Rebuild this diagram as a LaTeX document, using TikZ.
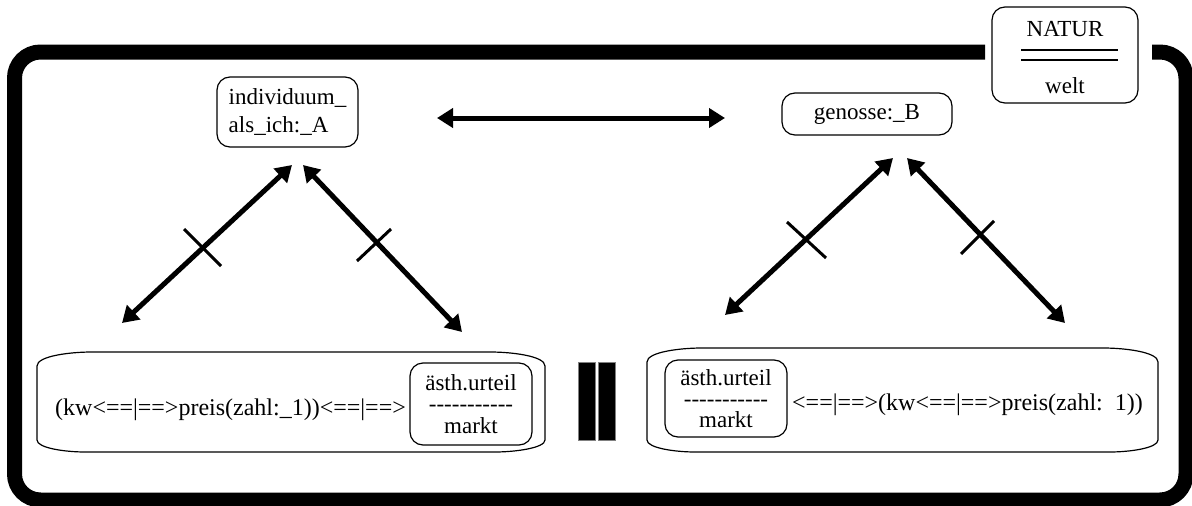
\documentclass[tikz,border=0pt]{standalone}
\usepackage{fontspec}
\setmainfont{Liberation Serif}
\usetikzlibrary{arrows.meta}
\begin{document}
\begin{tikzpicture}[x=1pt,y=-1pt,
  box/.style={draw, line width=1.2pt, rounded corners=13pt, inner sep=0pt, font=\fontsize{23}{28}\selectfont},
  txt/.style={inner sep=0pt, font=\fontsize{23}{28}\selectfont},
  longtxt/.style={inner sep=0pt, anchor=west, font=\fontsize{24}{28}\selectfont},
  dblarrow/.style={line width=5pt, {Triangle[length=16pt,width=19pt]}-{Triangle[length=16pt,width=19pt]}},
  crossmark/.style={line width=3pt},
  frame/.style={line width=15pt, rounded corners=26pt},
  bigbox/.style={draw, line width=1.2pt},
  bar/.style={fill=black, draw=gray, line width=0.8pt}]
\useasboundingbox (0,0) rectangle (1192,506);
% outer frame
\draw[frame] (985,52) -- (14.5,52) -- (14.5,500) -- (1186,500) -- (1186,52) -- (1152,52);
% NATUR box
\node[box, minimum width=146pt, minimum height=96pt] (natur) at (1065,55) {};
\node[txt] (naturT) at (1065,29) {NATUR};
\draw[line width=2pt] (1021,50) -- (1118,50) (1021,60) -- (1118,60);
\node[txt] (welt) at (1065,86) {welt};
% top nodes
\node[box, minimum width=141pt, minimum height=70pt, align=left] (ind) at (287.5,112) {individuum\_\\als\_ich:\_A};
\node[box, minimum width=170pt, minimum height=42pt] (gen) at (867,114) {genosse:\_B};
% horizontal arrow
\coordinate (hA) at (437,118);
\coordinate (hB) at (725,118);
\draw[dblarrow] (hA) -- (hB);
% left arrows
\coordinate (l1a) at (122,323); \coordinate (l1b) at (292,165);
\coordinate (l2a) at (303,165); \coordinate (l2b) at (462,332);
\draw[dblarrow] (l1a) -- (l1b);
\draw[dblarrow] (l2a) -- (l2b);
\draw[crossmark] (184,229) -- (221,266);
\draw[crossmark] (357,261) -- (391,229);
% right arrows
\coordinate (r1a) at (725,315); \coordinate (r1b) at (893,158);
\coordinate (r2a) at (907,158); \coordinate (r2b) at (1065,323);
\draw[dblarrow] (r1a) -- (r1b);
\draw[dblarrow] (r2a) -- (r2b);
\draw[crossmark] (787,222) -- (826,258);
\draw[crossmark] (961,254) -- (994,221);
% bottom left box
\draw[bigbox] (37,366) .. controls (37,356) and (70,352) .. (92,352) -- (490,352) .. controls (512,352) and (545,356) .. (545,366) -- (545,440) .. controls (545,448) and (515,452) .. (495,452) -- (85,452) .. controls (65,452) and (37,448) .. (37,440) -- cycle;
\node[longtxt] (lt) at (55,410) {(kw<==|==>preis(zahl:\_1))<==|==>};
\node[box, minimum width=122pt, minimum height=82pt, align=center, font=\fontsize{23}{21.5}\selectfont] (auL) at (471,404) {ästh.urteil\\{-}{-}{-}{-}{-}{-}{-}{-}{-}{-}{-}\\markt};
% bars
\draw[bar] (578,362) rectangle (595,440);
\draw[bar] (598,362) rectangle (615,440);
% bottom right box
\draw[bigbox] (647,362) .. controls (647,352) and (680,348) .. (702,348) -- (1103,348) .. controls (1125,348) and (1158,352) .. (1158,362) -- (1158,440) .. controls (1158,448) and (1130,452) .. (1110,452) -- (695,452) .. controls (675,452) and (647,448) .. (647,440) -- cycle;
\node[box, minimum width=122pt, minimum height=77pt, align=center, font=\fontsize{23}{21}\selectfont] (auR) at (726,398.5) {ästh.urteil\\{-}{-}{-}{-}{-}{-}{-}{-}{-}{-}{-}\\markt};
\node[longtxt] (rt) at (792,405) {<==|==>(kw<==|==>preis(zahl:\phantom{\_}1))};
\end{tikzpicture}
\end{document}
